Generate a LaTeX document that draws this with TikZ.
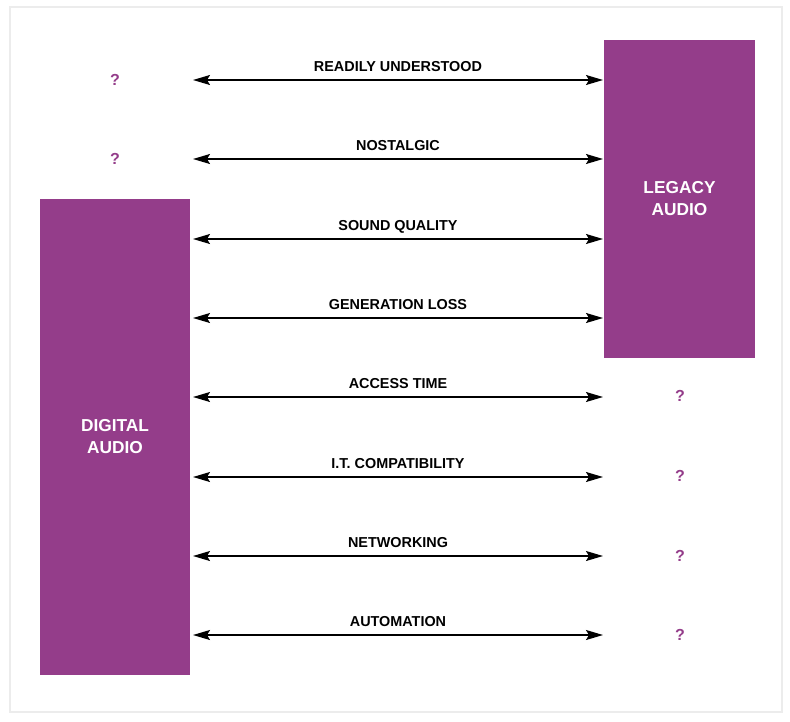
\documentclass[tikz,border=0pt]{standalone}
\usepackage{fontspec}
\setmainfont{Liberation Sans}
\usetikzlibrary{arrows.meta}
\definecolor{audiopurple}{RGB}{148,61,138}
\definecolor{framegray}{RGB}{236,236,236}
\begin{document}
\begin{tikzpicture}[x=1pt,y=-1pt,
  block/.style={fill=audiopurple,draw=none,inner sep=0pt,text=white,
    font=\fontsize{17.3}{22}\selectfont\bfseries,align=center},
  qmark/.style={text=audiopurple,font=\fontsize{16}{18}\selectfont\bfseries,inner sep=0pt},
  lbl/.style={font=\fontsize{14.4}{16}\selectfont\bfseries,inner sep=0pt,anchor=base},
  link/.style={line width=1.4pt,{Stealth[length=17pt,width=10pt,inset=3pt]}-{Stealth[length=17pt,width=10pt,inset=3pt]}}]
\useasboundingbox (0,0) rectangle (790,721);
\draw[framegray,line width=2pt] (10,7) rectangle (782,712);
\node[block,minimum width=150pt,minimum height=476pt] (digital) at (115,437) {DIGITAL\\AUDIO};
\node[block,minimum width=151pt,minimum height=318pt] (legacy) at (679.5,199) {LEGACY\\AUDIO};
% left question marks
\node[qmark] (q1) at (115,80) {?};
\node[qmark] (q2) at (115,159) {?};
% right question marks
\node[qmark] (q5) at (680,396) {?};
\node[qmark] (q6) at (680,476) {?};
\node[qmark] (q7) at (680,556) {?};
\node[qmark] (q8) at (680,635) {?};
% arrow endpoints
\foreach \i/\y in {1/80,2/159,3/239,4/318,5/397,6/477,7/556,8/635}{
  \coordinate (l\i) at (193,\y);
  \coordinate (r\i) at (603,\y);
}
\draw[link] (l1) -- (r1);
\draw[link] (l2) -- (r2);
\draw[link] (l3) -- (r3);
\draw[link] (l4) -- (r4);
\draw[link] (l5) -- (r5);
\draw[link] (l6) -- (r6);
\draw[link] (l7) -- (r7);
\draw[link] (l8) -- (r8);
\node[lbl] (t1) at (398,71.5) {READILY UNDERSTOOD};
\node[lbl] (t2) at (398,150.5) {NOSTALGIC};
\node[lbl] (t3) at (398,230) {SOUND QUALITY};
\node[lbl] (t4) at (398,309) {GENERATION LOSS};
\node[lbl] (t5) at (398,388.5) {ACCESS TIME};
\node[lbl] (t6) at (398,468) {I.T. COMPATIBILITY};
\node[lbl] (t7) at (398,547) {NETWORKING};
\node[lbl] (t8) at (398,626) {AUTOMATION};
\end{tikzpicture}
\end{document}
